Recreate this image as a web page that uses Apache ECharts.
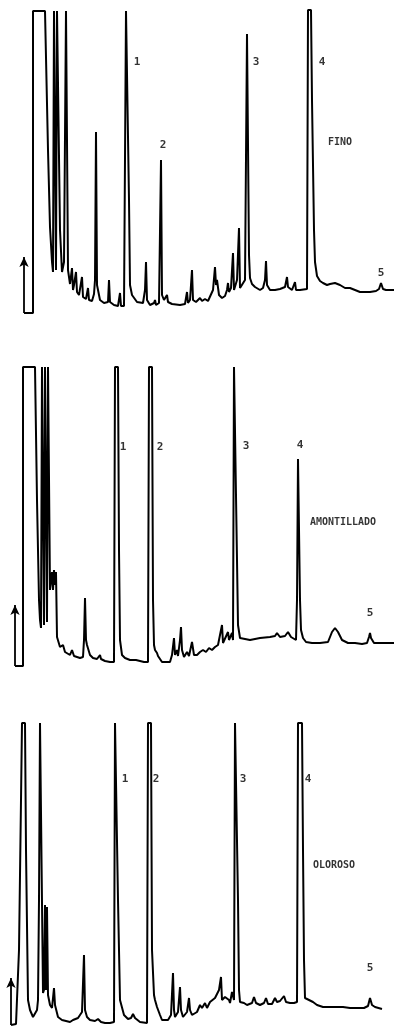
<!DOCTYPE html>
<html>
<head>
<meta charset="utf-8">
<title>Sherry chromatograms</title>
<script src="https://cdn.jsdelivr.net/npm/echarts@6/dist/echarts.min.js"></script>
<style>
  html, body { margin: 0; padding: 0; background: #fff; }
  #chart { width: 394px; height: 1026px; }
</style>
</head>
<body>
<div id="chart"></div>
<script>
// traces: retention position vs detector signal (tall peaks run off scale)
const finoTime = [24,33,33,45,48,50,52,53,54,55,56,57,59,60,62,64,66,67,68,70,72,73,74,76,77,79,82,83,86,88,89,92,94,95,96,97,98,100,104,108,109,110,114,118,120,121,124,126,128,129,130,132,137,143,145,146,147,150,154,155,156,159,161,162,164,167,168,172,180,185,187,188,190,192,193,196,200,202,205,208,210,213,215,216,217,219,222,225,227,228,229,231,233,234,236,237,239,240,242,245,247,249,250,252,255,260,263,265,266,267,270,275,280,285,287,288,292,295,296,300,307,308,311,312,314,315,317,320,323,327,330,335,340,345,350,355,360,370,376,379,381,383,386,394];
const finoSignal = [2,2,304,304,165,88,53,43,304,304,45,304,304,85,43,53,304,304,45,31,47,25,30,43,23,20,38,18,16,27,15,14,21,35,183,30,25,15,12,13,35,13,10,9,22,9,9,304,304,115,30,20,13,12,25,53,15,10,12,15,10,12,155,20,15,20,13,11,10,11,23,12,15,45,15,13,17,14,16,14,15,25,48,30,35,20,17,19,25,32,23,27,62,25,23,35,87,27,25,35,281,60,37,31,28,25,27,35,54,30,25,25,26,28,38,28,25,33,25,25,26,305,305,215,85,53,39,34,32,30,31,32,30,27,27,25,23,23,24,26,32,26,25,25];

const amonTime = [15,23,23,35,37,39,40,41,42,43,44,45,46,47,48,49,50,52,53,54,55,56,57,60,63,65,67,70,72,74,77,80,83,84,85,86,87,88,90,93,97,100,101,105,110,114,115,118,119,120,122,125,130,136,137,138,144,148,149,152,153,154,155,157,158,162,170,172,174,175,177,178,180,181,182,184,187,189,192,194,197,200,203,206,209,212,215,218,222,223,225,228,229,232,233,234,236,237,238,240,250,260,270,275,277,280,285,288,291,296,297,298,300,301,303,306,312,320,328,332,335,338,342,348,355,362,367,369,370,371,374,380,394];
const amonSignal = [2,2,301,301,168,68,48,40,301,301,43,301,301,46,301,301,78,96,78,98,83,96,31,21,23,16,14,13,18,12,11,10,11,28,70,28,23,25,13,10,9,13,9,7,6,6,301,301,118,28,13,10,8,8,10,7,6,6,301,301,68,23,18,15,12,6,6,13,30,13,18,12,28,41,18,11,16,12,26,13,13,16,18,16,20,18,21,23,43,25,23,36,28,35,28,301,301,108,43,30,28,30,31,32,35,31,32,36,31,28,68,209,68,38,30,26,25,25,26,36,40,36,28,25,25,24,25,31,35,30,25,25,25];

const oloTime = [11,16,19,21,22,25,26,28,30,33,35,37,38,39,40,42,43,44,45,46,47,48,50,52,54,55,58,62,66,70,73,75,78,80,82,84,85,87,90,92,95,98,101,105,110,114,115,117,118,120,124,128,131,133,135,140,147,148,151,152,154,155,157,160,162,168,171,173,174,175,178,180,181,183,187,189,190,192,197,200,202,205,207,210,212,215,217,219,221,222,223,225,227,229,230,232,233,234,235,237,238,239,240,244,247,252,254,256,260,264,266,268,272,275,277,280,284,286,290,294,297,298,302,303,304,305,309,313,317,323,330,338,340,343,350,357,364,368,370,372,375,382];
const oloSignal = [1,2,76,226,303,303,176,26,16,9,8,16,26,126,303,303,33,36,121,36,119,31,21,18,38,21,9,6,5,4,6,4,8,11,14,71,16,9,6,4,5,7,4,3,3,4,303,303,126,26,11,7,8,12,8,4,3,303,303,76,31,26,19,11,6,6,11,53,16,9,14,39,16,9,14,28,16,11,14,21,18,23,18,24,23,28,26,36,49,26,24,29,31,26,23,34,36,26,303,303,126,36,24,23,21,23,29,23,21,23,28,22,22,28,24,25,30,24,23,23,24,303,303,176,66,28,26,24,21,19,19,19,20,19,18,18,18,20,28,21,19,17];

// injection arrows: [position, from, to]
const finoArrow = [24, 2, 58];
const amonArrow = [15, 2, 63];
const oloArrow = [11, 1, 48];

const panelTitles = ['FINO', 'AMONTILLADO', 'OLOROSO'];
const peakNames = ['1', '2', '3', '4', '5'];

// layout
const panels = [
  { time: finoTime, signal: finoSignal, arrow: finoArrow, top: 10, height: 305,
    titleAt: [340, 173], peaksAt: [[137, 253], [163, 170], [256, 253], [322, 253], [381, 42]] },
  { time: amonTime, signal: amonSignal, arrow: amonArrow, top: 365, height: 303,
    titleAt: [343, 146], peaksAt: [[123, 221], [160, 221], [246, 222], [300, 223], [370, 55]] },
  { time: oloTime, signal: oloSignal, arrow: oloArrow, top: 720, height: 306,
    titleAt: [334, 161], peaksAt: [[125, 247], [156, 247], [243, 247], [308, 247], [370, 58]] }
];

const chart = echarts.init(document.getElementById('chart'));

const grid = [], xAxis = [], yAxis = [], series = [];
panels.forEach((p, i) => {
  grid.push({ left: 0, right: 0, top: p.top, height: p.height, containLabel: false });
  xAxis.push({ type: 'value', gridIndex: i, min: 0, max: 394, show: false });
  yAxis.push({ type: 'value', gridIndex: i, min: 0, max: p.height, show: false });

  series.push({
    type: 'line',
    xAxisIndex: i,
    yAxisIndex: i,
    data: p.time.map((t, k) => [t, p.signal[k]]),
    symbol: 'none',
    clip: false,
    lineStyle: { color: '#000', width: 2 },
    markLine: {
      silent: true,
      symbol: ['none', 'arrow'],
      symbolSize: [7, 10],
      lineStyle: { color: '#000', width: 1.8, type: 'solid' },
      label: { show: false },
      data: [[{ coord: [p.arrow[0], p.arrow[1]] }, { coord: [p.arrow[0], p.arrow[2]] }]]
    }
  });

  const labels = p.peaksAt.map((pos, k) => [pos[0], pos[1], peakNames[k], 11]);
  labels.push([p.titleAt[0], p.titleAt[1], panelTitles[i], 10]);
  series.push({
    type: 'scatter',
    xAxisIndex: i,
    yAxisIndex: i,
    silent: true,
    symbolSize: 1,
    itemStyle: { color: 'rgba(0,0,0,0)' },
    data: labels,
    label: {
      show: true,
      position: 'inside',
      color: '#000',
      fontFamily: 'DejaVu Sans Mono',
      fontWeight: 'bold',
      formatter: (d) => d.data[2]
    },
    labelLayout: (params) => ({ fontSize: labels[params.dataIndex][3] })
  });
});

chart.setOption({
  animation: false,
  backgroundColor: '#fff',
  grid: grid,
  xAxis: xAxis,
  yAxis: yAxis,
  series: series
});
</script>
</body>
</html>
